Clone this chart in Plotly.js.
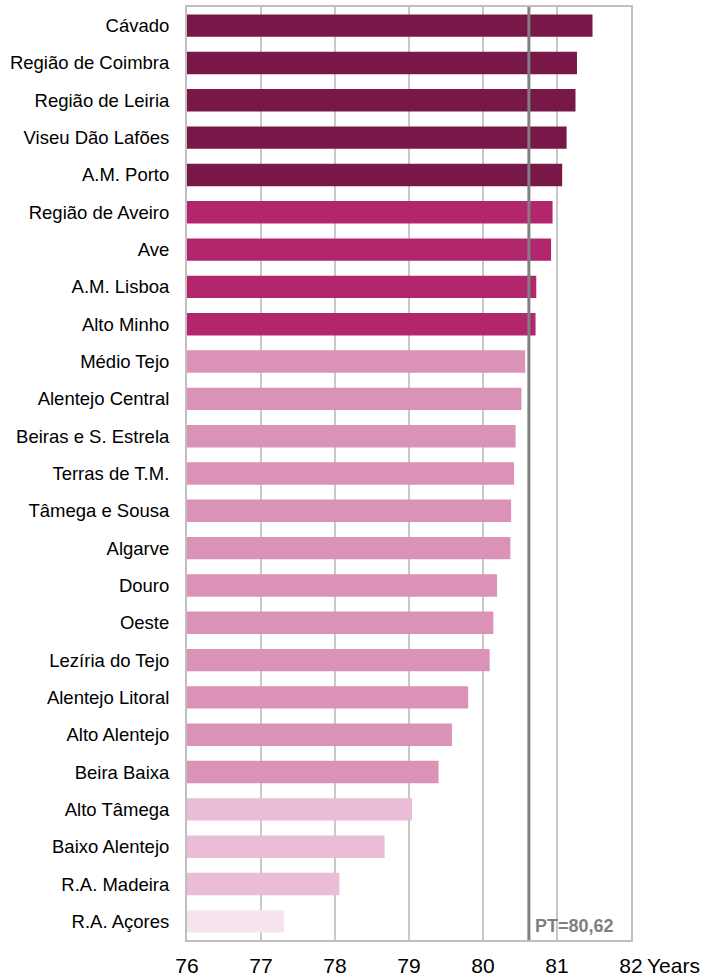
<!DOCTYPE html>
<html>
<head>
<meta charset="utf-8">
<script src="https://cdn.plot.ly/plotly-3.0.1.min.js"></script>
<style>html,body{margin:0;padding:0;background:#fff;}#chart{width:711px;height:980px;}</style>
</head>
<body>
<div id="chart"></div>
<script>
const regions = ["Cávado","Região de Coimbra","Região de Leiria","Viseu Dão Lafões","A.M. Porto",
  "Região de Aveiro","Ave","A.M. Lisboa","Alto Minho",
  "Médio Tejo","Alentejo Central","Beiras e S. Estrela","Terras de T.M.","Tâmega e Sousa","Algarve",
  "Douro","Oeste","Lezíria do Tejo","Alentejo Litoral","Alto Alentejo","Beira Baixa",
  "Alto Tâmega","Baixo Alentejo","R.A. Madeira","R.A. Açores"];
const lifeExpectancy = [81.48,81.27,81.25,81.13,81.07,
  80.94,80.92,80.72,80.71,
  80.57,80.52,80.44,80.42,80.38,80.37,
  80.19,80.14,80.09,79.80,79.58,79.40,
  79.04,78.67,78.06,77.31];
const groupIndex = [0,0,0,0,0, 1,1,1,1, 2,2,2,2,2,2,2,2,2,2,2,2, 3,3,3, 4];
const groupColors = ["#771848","#B2266E","#DA92B7","#EABCD5","#F6E5EE"];
const ptValue = 80.62;
const ptLabel = "PT=80,62";
const xTicks = [76,77,78,79,80,81,82];
const xUnit = "Years";

const trace = {
  type: "bar",
  orientation: "h",
  y: regions,
  x: lifeExpectancy,
  marker: {color: groupIndex.map(g => groupColors[g])},
  width: 0.6,
  hoverinfo: "x+y"
};

const layout = {
  width: 711, height: 980,
  margin: {l: 187, r: 80, t: 7, b: 40, pad: 0},
  paper_bgcolor: "#ffffff",
  plot_bgcolor: "#ffffff",
  font: {family: "Liberation Sans, Arial, sans-serif", color: "#000000"},
  showlegend: false,
  bargap: 0.4,
  xaxis: {
    range: [76, 82],
    tickvals: xTicks,
    ticktext: xTicks.map(String),
    tickfont: {size: 21, color: "#000000"},
    showgrid: true, gridcolor: "#C8C8C8", gridwidth: 1.5,
    showline: true, mirror: true, linecolor: "#BFBFBF", linewidth: 2,
    zeroline: false, ticks: "", ticklabelstandoff: 6, fixedrange: true
  },
  yaxis: {
    autorange: "reversed",
    type: "category",
    tickfont: {size: 18.5, color: "#000000"},
    showgrid: false,
    showline: true, mirror: true, linecolor: "#BFBFBF", linewidth: 2,
    ticks: "", ticklabelstandoff: 12, fixedrange: true
  },
  shapes: [{
    type: "line", xref: "x", yref: "paper",
    x0: ptValue, x1: ptValue, y0: 0, y1: 1,
    line: {color: "#808080", width: 3}
  }],
  annotations: [
    {xref: "x", yref: "paper", x: ptValue, y: 0, xanchor: "left", yanchor: "bottom",
     xshift: 4, yshift: 2, text: "<b>" + ptLabel + "</b>", showarrow: false,
     font: {size: 18, color: "#7F7F7F", family: "Liberation Sans, Arial, sans-serif"}},
    {xref: "paper", yref: "paper", x: 1, y: 0, xanchor: "left", yanchor: "middle",
     xshift: 14, yshift: -25, text: xUnit, showarrow: false,
     font: {size: 21, color: "#000000"}}
  ]
};

Plotly.newPlot("chart", [trace], layout, {displayModeBar: false, staticPlot: true});
</script>
</body>
</html>
